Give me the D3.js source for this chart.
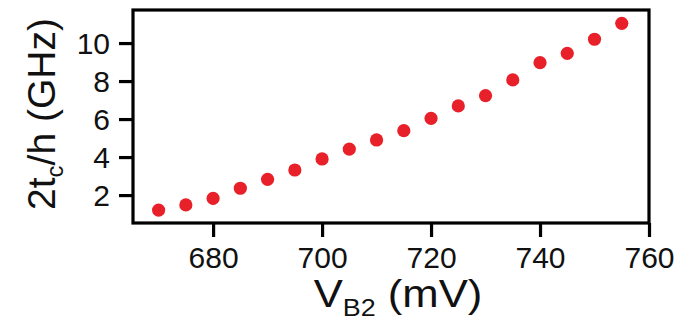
<!DOCTYPE html>
<html>
<head>
<meta charset="utf-8">
<script src="https://cdn.jsdelivr.net/npm/d3@7"></script>
<style>
  html, body { margin: 0; padding: 0; background: #fff; }
  svg { display: block; font-family: "Liberation Sans", Arial, sans-serif; }
</style>
</head>
<body>
<svg id="chart" width="692" height="321"></svg>
<script>
// Gate voltage V_B2 (mV)
const vb2 = [670, 675, 680, 685, 690, 695, 700, 705, 710, 715, 720, 725, 730, 735, 740, 745, 750, 755];
// Tunnel coupling 2t_c/h (GHz)
const tunnel = [1.21, 1.48, 1.83, 2.36, 2.83, 3.32, 3.90, 4.42, 4.90, 5.39, 6.04, 6.69, 7.23, 8.06, 8.97, 9.46, 10.2, 11.04];
const xTicks = [680, 700, 720, 740, 760];
const yTicks = [2, 4, 6, 8, 10];

const svg = d3.select("#chart");
const plot = { left: 133, right: 649, top: 10, bottom: 223 };

const x = d3.scaleLinear().domain([665.3, 760]).range([plot.left, plot.right]);
const y = d3.scaleLinear().domain([0.53, 11.74]).range([plot.bottom, plot.top]);

// Frame around the plot area
svg.append("rect")
  .attr("x", plot.left).attr("y", plot.top)
  .attr("width", plot.right - plot.left).attr("height", plot.bottom - plot.top)
  .attr("fill", "none").attr("stroke", "#000").attr("stroke-width", 3.2);

// Axes
const xAxis = svg.append("g")
  .attr("transform", `translate(0,${plot.bottom})`)
  .call(d3.axisBottom(x).tickValues(xTicks).tickSize(14).tickPadding(10).tickFormat(d3.format("d")));
const yAxis = svg.append("g")
  .attr("transform", `translate(${plot.left},0)`)
  .call(d3.axisLeft(y).tickValues(yTicks).tickSize(14).tickPadding(9).tickFormat(d3.format("d")));

[xAxis, yAxis].forEach(g => {
  g.select(".domain").remove();
  g.selectAll(".tick line").attr("stroke", "#000").attr("stroke-width", 3.2);
  g.selectAll(".tick text")
    .attr("fill", "#111")
    .style("font-size", "30px")
    .style("font-family", "\"Liberation Sans\", Arial, sans-serif");
});
yAxis.selectAll(".tick text").attr("dy", "0.36em");

// Data points
svg.append("g")
  .selectAll("circle")
  .data(vb2.map((v, i) => [v, tunnel[i]]))
  .join("circle")
  .attr("cx", d => x(d[0]))
  .attr("cy", d => y(d[1]))
  .attr("r", 6.6)
  .attr("fill", "#e8202a");

// Axis titles
const xTitle = svg.append("text")
  .attr("transform", "translate(398,307) scale(1.12,1)")
  .attr("text-anchor", "middle")
  .attr("fill", "#111")
  .style("font-size", "39px");
xTitle.append("tspan").text("V");
xTitle.append("tspan").attr("dy", 9).style("font-size", "24px").text("B2");
xTitle.append("tspan").attr("dy", -9).text(" (mV)");

const yTitle = svg.append("text")
  .attr("transform", "translate(55,114) rotate(-90)")
  .attr("text-anchor", "middle")
  .attr("fill", "#111")
  .style("font-size", "39px");
yTitle.append("tspan").text("2t");
yTitle.append("tspan").attr("dy", 8).style("font-size", "24px").text("c");
yTitle.append("tspan").attr("dy", -8).text("/h (GHz)");
</script>
</body>
</html>
